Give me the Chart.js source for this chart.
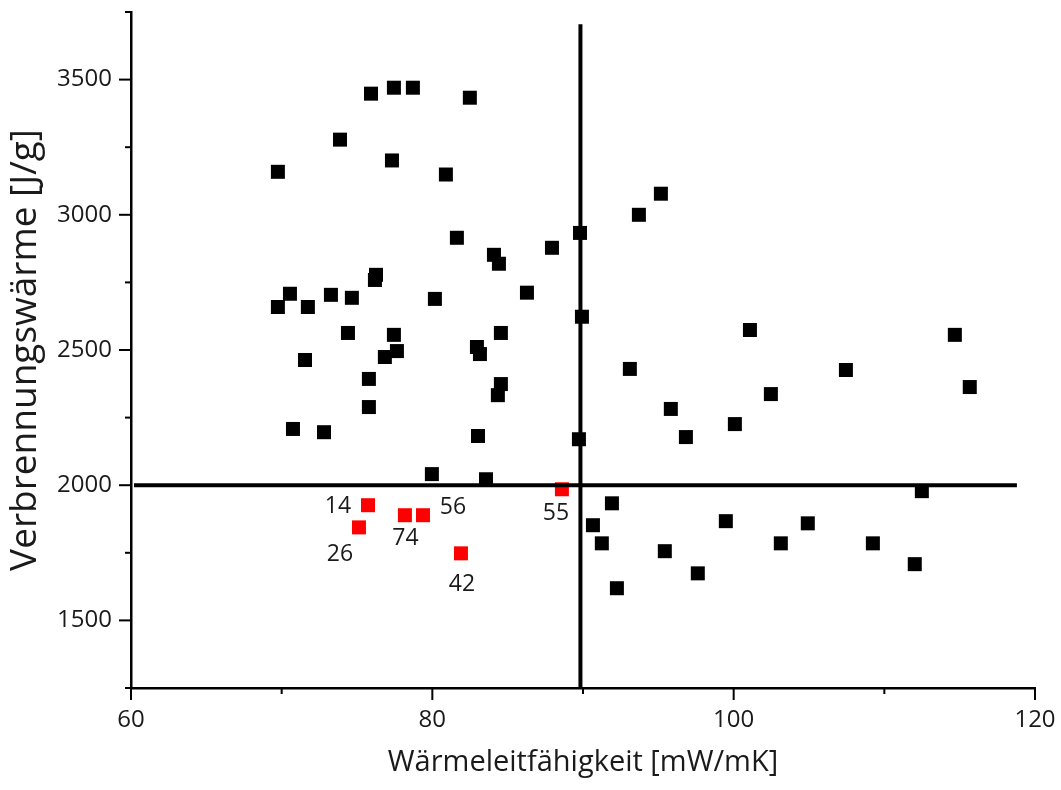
<!DOCTYPE html>
<html>
<head>
<meta charset="utf-8">
<script src="https://cdn.jsdelivr.net/npm/chart.js@4"></script>
<style>
  html, body { margin: 0; padding: 0; background: #fff; }
</style>
</head>
<body>
<canvas id="chart" width="1061" height="790"></canvas>
<script>
// Wärmeleitfähigkeit (x) und Verbrennungswärme (y) der Proben
const blackX = [75.93, 77.45, 78.71, 82.49, 73.87, 77.32, 69.75, 80.90, 81.63, 89.80,
                87.94, 84.09, 84.42, 76.26, 76.19, 70.55, 69.75, 71.74, 73.27, 74.66,
                80.17, 86.28, 89.93, 74.40, 77.45, 84.55, 71.55, 77.65, 76.85, 82.96,
                83.16, 84.55, 84.35, 75.79, 75.79, 70.75, 72.81, 83.03, 89.73, 79.97,
                83.56, 95.17, 93.71, 101.08, 114.68, 93.11, 107.45, 115.67, 102.47, 95.83,
                100.08, 96.83, 112.49, 91.92, 90.66, 91.25, 92.25, 95.43, 97.62, 99.48,
                103.13, 104.92, 109.24, 112.02];
const blackY = [3448, 3470, 3470, 3433, 3278, 3201, 3159, 3149, 2915, 2933,
                2878, 2852, 2819, 2778, 2759, 2708, 2659, 2659, 2704, 2693,
                2689, 2712, 2623, 2563, 2556, 2563, 2463, 2496, 2474, 2511,
                2485, 2374, 2333, 2393, 2289, 2208, 2196, 2182, 2170, 2041,
                2022, 3078, 3000, 2574, 2556, 2430, 2426, 2363, 2337, 2282,
                2226, 2178, 1978, 1933, 1852, 1785, 1619, 1756, 1674, 1867,
                1785, 1859, 1785, 1708];

// markierte Proben
const redX = [75.73, 75.13, 78.18, 79.38, 81.90, 88.60];
const redY = [1926, 1844, 1889, 1889, 1748, 1985];
const redLabels = ['14', '26', '74', '56', '42', '55'];

// Grenzlinien
const limitX = 89.83;
const limitY = 2000;
const vLineY = [1250, 3705];
const hLineX = [60.2, 118.8];

// Achsen
const xMin = 60, xMax = 120, xStep = 10, xLabelStep = 20;
const yMin = 1250, yMax = 3750, yStep = 250, yLabelStep = 500;

// Lage der Beschriftungen relativ zum Punkt (px)
const labelOffsets = [[-30, 0], [-19, 25.5], [0.5, 21.5], [30, -9.5], [1, 30], [-6, 23]];

const FONT = '"Open Sans", "Noto Sans", sans-serif';
const TEXT = '#1a1a1a';

const toPoints = (xs, ys) => xs.map((x, i) => ({ x: x, y: ys[i] }));

// Tickstriche: lang an beschrifteten Werten, kurz dazwischen
const tickMarks = {
    id: 'tickMarks',
    afterDraw(chart) {
        const ctx = chart.ctx;
        ctx.save();
        ctx.strokeStyle = '#000';
        ctx.lineWidth = 2;
        const xs = chart.scales.x;
        xs.ticks.forEach((t, i) => {
            const px = xs.getPixelForTick(i);
            const len = t.value % xLabelStep === 0 ? 12 : 6;
            ctx.beginPath();
            ctx.moveTo(px, xs.top);
            ctx.lineTo(px, xs.top + len);
            ctx.stroke();
        });
        const ys = chart.scales.y;
        ys.ticks.forEach((t, i) => {
            const py = ys.getPixelForTick(i);
            const len = t.value % yLabelStep === 0 ? 12 : 6;
            ctx.beginPath();
            ctx.moveTo(ys.right, py);
            ctx.lineTo(ys.right - len, py);
            ctx.stroke();
        });
        ctx.restore();
    }
};

const pointLabels = {
    id: 'pointLabels',
    afterDraw(chart) {
        const meta = chart.getDatasetMeta(2);
        const ctx = chart.ctx;
        ctx.save();
        ctx.font = '23px ' + FONT;
        ctx.fillStyle = TEXT;
        ctx.textAlign = 'center';
        ctx.textBaseline = 'alphabetic';
        meta.data.forEach((el, i) => {
            const [dx, dy] = labelOffsets[i];
            ctx.fillText(redLabels[i], el.x + dx, el.y + dy + 8);
        });
        ctx.restore();
    }
};

new Chart(document.getElementById('chart'), {
    type: 'scatter',
    data: {
        datasets: [
            {
                data: [{ x: limitX, y: vLineY[0] }, { x: limitX, y: vLineY[1] }],
                showLine: true, borderColor: '#000', borderWidth: 4,
                borderCapStyle: 'butt', pointRadius: 0, order: 0
            },
            {
                data: [{ x: hLineX[0], y: limitY }, { x: hLineX[1], y: limitY }],
                showLine: true, borderColor: '#000', borderWidth: 4,
                borderCapStyle: 'butt', pointRadius: 0, order: 0
            },
            {
                data: toPoints(redX, redY),
                pointStyle: 'rect', pointRadius: 9.9, borderWidth: 0,
                backgroundColor: '#ff0000', order: 1
            },
            {
                data: toPoints(blackX, blackY),
                pointStyle: 'rect', pointRadius: 9.9, borderWidth: 0,
                backgroundColor: '#000', order: 2
            }
        ]
    },
    options: {
        responsive: false,
        animation: false,
        layout: { padding: { left: 0, top: 12, right: 26, bottom: 0 } },
        plugins: { legend: { display: false }, tooltip: { enabled: false } },
        elements: { point: { hoverRadius: 9.9 } },
        scales: {
            x: {
                type: 'linear', min: xMin, max: xMax,
                afterFit: (s) => { s.height = 102; s.paddingLeft = 0; s.paddingRight = 0; },
                border: { display: true, color: '#000', width: 2.5 },
                grid: { drawOnChartArea: false, drawTicks: true, tickLength: 12, tickColor: 'rgba(0,0,0,0)' },
                ticks: {
                    stepSize: xStep, autoSkip: false, maxRotation: 0, padding: 6,
                    color: TEXT, font: { family: FONT, size: 24 },
                    callback: (v) => (v % xLabelStep === 0 ? String(v) : '')
                },
                title: {
                    display: true, text: 'Wärmeleitfähigkeit [mW/mK]',
                    color: TEXT, font: { family: FONT, size: 29 },
                    padding: { top: 0, bottom: 10 }
                }
            },
            y: {
                type: 'linear', min: yMin, max: yMax,
                afterFit: (s) => { s.width = 131; s.paddingTop = 0; s.paddingBottom = 0; },
                border: { display: true, color: '#000', width: 2.5 },
                grid: { drawOnChartArea: false, drawTicks: true, tickLength: 12, tickColor: 'rgba(0,0,0,0)' },
                ticks: {
                    stepSize: yStep, autoSkip: false, padding: 7,
                    color: TEXT, font: { family: FONT, size: 24 },
                    callback: (v) => (v % yLabelStep === 0 ? String(v) : '')
                },
                title: {
                    display: true, text: 'Verbrennungswärme [J/g]',
                    color: TEXT, font: { family: FONT, size: 37 },
                    padding: { top: 3, bottom: 0 }
                }
            }
        }
    },
    plugins: [tickMarks, pointLabels]
});
</script>
</body>
</html>
